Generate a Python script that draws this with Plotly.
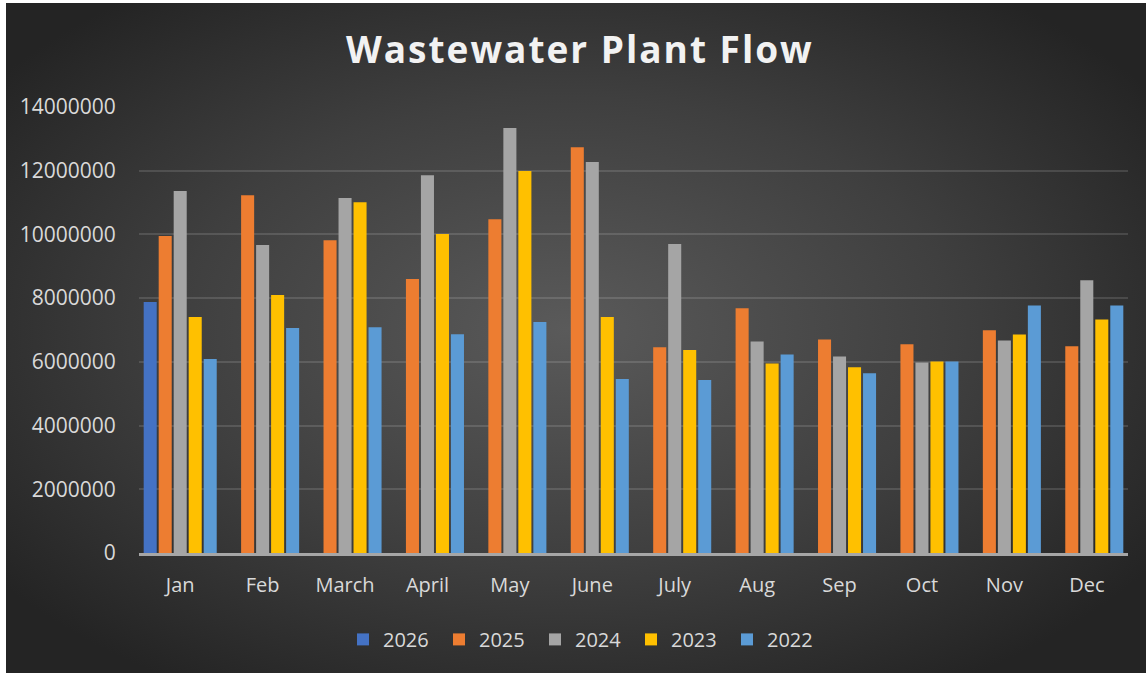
import base64
import plotly.graph_objects as go

months = ["Jan", "Feb", "March", "April", "May", "June", "July", "Aug", "Sep", "Oct", "Nov", "Dec"]
series_names = ["2026", "2025", "2024", "2023", "2022"]

y2026 = [7880000, None, None, None, None, None, None, None, None, None, None, None]
y2025 = [9950000, 11230000, 9820000, 8600000, 10480000, 12740000, 6460000, 7680000, 6700000, 6550000, 6990000, 6490000]
y2024 = [11360000, 9670000, 11140000, 11860000, 13340000, 12270000, 9700000, 6640000, 6170000, 5980000, 6670000, 8560000]
y2023 = [7410000, 8100000, 11010000, 10010000, 11990000, 7410000, 6370000, 5950000, 5830000, 6010000, 6860000, 7330000]
y2022 = [6090000, 7060000, 7090000, 6870000, 7250000, 5460000, 5430000, 6230000, 5640000, 6010000, 7770000, 7770000]

colors = ["#4472C4", "#ED7D31", "#A5A5A5", "#FFC000", "#5B9BD5"]
tickvals = [0, 2000000, 4000000, 6000000, 8000000, 10000000, 12000000, 14000000]
ticktext = [str(v) for v in tickvals]

W, H = 1146, 673
ML, MR, MT, MB = 139, 18, 107, 120
PW, PH = W - ML - MR, H - MT - MB

fig = go.Figure()
for name, vals, c in zip(series_names, [y2026, y2025, y2024, y2023, y2022], colors):
    fig.add_trace(go.Bar(x=months, y=vals, name=name, marker=dict(color=c, line=dict(width=0))))

svg = (
    '<svg xmlns="http://www.w3.org/2000/svg" width="1140" height="680" preserveAspectRatio="none" viewBox="0 0 1140 680">'
    '<defs><radialGradient id="g" cx="0.49" cy="0.48" r="0.62">'
    '<stop offset="0" stop-color="#5a5a5a"/><stop offset="0.55" stop-color="#3f3f3f"/><stop offset="1" stop-color="#242424"/>'
    '</radialGradient></defs><rect x="0" y="0" width="1140" height="680" fill="url(#g)"/></svg>'
)
src = "data:image/svg+xml;base64," + base64.b64encode(svg.encode()).decode()

x0 = (6 - ML) / PW
ytop = (H - MB - 3) / PH
fig.add_layout_image(dict(
    source=src, xref="paper", yref="paper", x=x0, y=ytop,
    sizex=(W + 4 - 6) / PW, sizey=(H + 10 - 3) / PH, sizing="stretch",
    xanchor="left", yanchor="top", layer="below"))

fig.update_layout(
    width=W, height=H,
    margin=dict(l=ML, r=MR, t=MT, b=MB),
    paper_bgcolor="white", plot_bgcolor="rgba(0,0,0,0)",
    barmode="group", bargap=0.09, bargroupgap=0.13,
    font=dict(family="Open Sans", color="#d9d9d9", size=20),
    title=dict(text="<b>Wastewater Plant Flow</b>", x=0.506, xanchor="center", y=0.925, yanchor="middle",
               font=dict(family="Open Sans", size=37, color="#f2f2f2")),
    legend=dict(orientation="h", x=(343 - ML) / PW, xanchor="left", y=-0.15, yanchor="top",
                font=dict(size=20, color="#d9d9d9"), bgcolor="rgba(0,0,0,0)",
                entrywidth=51, itemwidth=30),
    showlegend=True,
)
fig.update_yaxes(range=[0, 14000000], tickvals=tickvals, ticktext=ticktext,
                 showgrid=True, gridcolor="rgba(255,255,255,0.13)", gridwidth=2,
                 zeroline=False, showline=False, ticks="outside", ticklen=18, tickcolor="rgba(0,0,0,0)",
                 tickfont=dict(size=21, color="#d9d9d9"))
fig.update_xaxes(showline=True, linecolor="#a6a6a6", linewidth=3, ticks="outside", ticklen=12,
                 tickcolor="rgba(0,0,0,0)", tickfont=dict(size=20, color="#d9d9d9"), showgrid=False)

post = (
    "document.body.style.margin='0';"
    "document.body.style.overflow='hidden';"
    "var t=document.querySelectorAll('.gtitle');"
    "t.forEach(function(e){e.style.letterSpacing='2px';});"
)
fig.write_html("out.html", post_script=post, config={"displayModeBar": False})
